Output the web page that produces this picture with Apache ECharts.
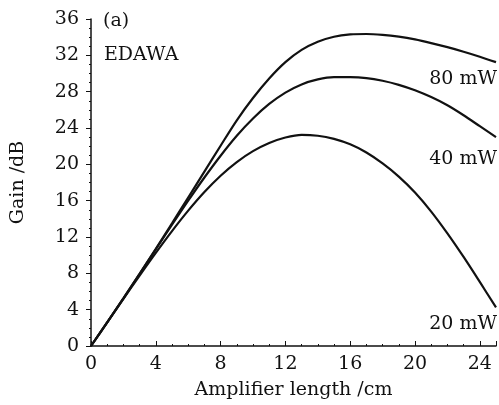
<!DOCTYPE html>
<html><head><meta charset="utf-8">
<script src="https://cdn.jsdelivr.net/npm/echarts@6/dist/echarts.min.js"></script>
<style>html,body{margin:0;padding:0;background:#fff}#c{width:499px;height:405px}</style>
</head><body><div id="c"></div>
<script>
const lengthCm = [0,1,2,3,4,5,6,7,8,9,10,11,12,13,14,15,16,17,18,19,20,21,22,23,24,25];
const gain80 = [0,2.6,5.25,7.95,10.7,13.5,16.35,19.2,22.05,24.85,27.3,29.45,31.25,32.6,33.5,34.05,34.3,34.35,34.25,34.05,33.75,33.35,32.9,32.4,31.85,31.25];
const gain40 = [0,2.6,5.25,7.95,10.65,13.35,16.0,18.55,20.95,23.15,25.05,26.65,27.9,28.8,29.35,29.6,29.6,29.5,29.2,28.75,28.15,27.4,26.5,25.4,24.2,23.0];
const gain20 = [0,2.6,5.2,7.75,10.25,12.65,14.9,16.95,18.75,20.25,21.45,22.35,22.95,23.25,23.15,22.8,22.2,21.3,20.1,18.65,16.9,14.8,12.4,9.8,7.05,4.25];
const seriesNames = ['80 mW','40 mW','20 mW'];
const xTicks = [0,4,8,12,16,20,24];
const yTicks = [0,4,8,12,16,20,24,28,32,36];

const font = '"DejaVu Serif", "Liberation Serif", serif';
const chart = echarts.init(document.getElementById('c'), null, {renderer:'canvas'});
function mk(name, vals){
  return {name, type:'line', data: lengthCm.map((x,i)=>[x, vals[i]]), smooth:0.3, showSymbol:false,
    lineStyle:{color:'#111', width:2.2}, z:3};
}
chart.setOption({
  animation:false,
  grid:{left:91, right:3, top:19, bottom:59},
  xAxis:{type:'value', min:0, max:25, interval:4,
    name:'Amplifier length /cm', nameLocation:'middle', nameGap:35,
    nameTextStyle:{fontFamily:font, fontSize:19, color:'#111'},
    axisLine:{show:true, lineStyle:{color:'#111', width:1.5}},
    axisTick:{show:true, inside:true, length:5, lineStyle:{color:'#111'}},
    minorTick:{show:true, splitNumber:4, length:2, lineStyle:{color:'#111'}},
    splitLine:{show:false},
    axisLabel:{fontFamily:font, fontSize:19, color:'#111', margin:9,
      formatter:v=> xTicks.includes(v) ? String(v) : ''}
  },
  yAxis:{type:'value', min:0, max:36, interval:4,
    name:'Gain /dB', nameLocation:'middle', nameGap:63, nameRotate:90,
    nameTextStyle:{fontFamily:font, fontSize:19, color:'#111'},
    axisLine:{show:true, lineStyle:{color:'#111', width:1.5}},
    axisTick:{show:true, inside:false, length:5, lineStyle:{color:'#111'}},
    minorTick:{show:true, splitNumber:4, length:2, lineStyle:{color:'#111'}},
    splitLine:{show:false},
    axisLabel:{fontFamily:font, fontSize:19, color:'#111', margin:12,
      formatter:v=> yTicks.includes(v) ? String(v) : ''}
  },
  series:[mk(seriesNames[0],gain80), mk(seriesNames[1],gain40), mk(seriesNames[2],gain20)],
  graphic:[
    {type:'text', left:103, top:12, style:{text:'(a)', font:'19px '+font, fill:'#111'}},
    {type:'text', left:104, top:46, style:{text:'EDAWA', font:'19px '+font, fill:'#111'}},
    {type:'text', right:2, top:70, style:{text:seriesNames[0], font:'19px '+font, fill:'#111'}},
    {type:'text', right:2, top:150, style:{text:seriesNames[1], font:'19px '+font, fill:'#111'}},
    {type:'text', right:2, top:315, style:{text:seriesNames[2], font:'19px '+font, fill:'#111'}}
  ]
});
</script></body></html>
